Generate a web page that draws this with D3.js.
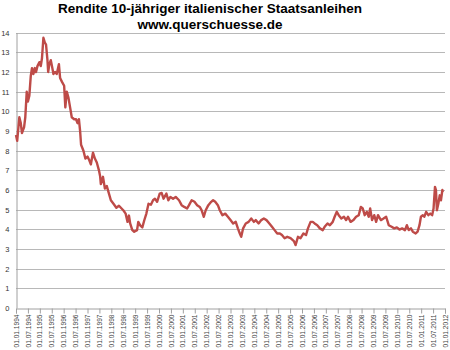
<!DOCTYPE html>
<html><head><meta charset="utf-8">
<script src="https://cdn.jsdelivr.net/npm/d3@7"></script>
<style>body{margin:0;background:#fff}svg{display:block}</style>
</head><body>
<svg id="c" width="450" height="350"></svg>
<script>
const titleLines = ["Rendite 10-jähriger italienischer Staatsanleihen", "www.querschuesse.de"];
const yTicks = [0,1,2,3,4,5,6,7,8,9,10,11,12,13,14];
const xTickLabels = ["01.01.1994","01.07.1994","01.01.1995","01.07.1995","01.01.1996","01.07.1996","01.01.1997","01.07.1997","01.01.1998","01.07.1998","01.01.1999","01.07.1999","01.01.2000","01.07.2000","01.01.2001","01.07.2001","01.01.2002","01.07.2002","01.01.2003","01.07.2003","01.01.2004","01.07.2004","01.01.2005","01.07.2005","01.01.2006","01.07.2006","01.01.2007","01.07.2007","01.01.2008","01.07.2008","01.01.2009","01.07.2009","01.01.2010","01.07.2010","01.01.2011","01.07.2011","01.01.2012"];
// decimal years
const times = [1994.00,1994.05,1994.14,1994.20,1994.25,1994.34,1994.39,1994.45,1994.50,1994.56,1994.62,1994.67,1994.73,1994.79,1994.84,1994.90,1994.98,1995.04,1995.09,1995.15,1995.21,1995.26,1995.32,1995.35,1995.40,1995.46,1995.51,1995.57,1995.64,1995.71,1995.80,1995.85,1995.93,1996.02,1996.07,1996.13,1996.20,1996.27,1996.34,1996.44,1996.52,1996.58,1996.64,1996.69,1996.73,1996.83,1996.91,1997.00,1997.08,1997.14,1997.23,1997.31,1997.39,1997.48,1997.53,1997.56,1997.65,1997.73,1997.81,1997.90,1997.98,1998.09,1998.21,1998.32,1998.40,1998.51,1998.60,1998.68,1998.74,1998.79,1998.88,1998.96,1999.08,1999.13,1999.21,1999.30,1999.38,1999.47,1999.56,1999.66,1999.75,1999.83,1999.92,2000.03,2000.11,2000.19,2000.31,2000.39,2000.48,2000.59,2000.70,2000.84,2000.95,2001.06,2001.18,2001.26,2001.37,2001.49,2001.60,2001.71,2001.79,2001.88,2001.96,2002.07,2002.19,2002.27,2002.36,2002.47,2002.55,2002.66,2002.78,2002.89,2003.00,2003.11,2003.22,2003.31,2003.39,2003.45,2003.53,2003.64,2003.76,2003.87,2003.98,2004.06,2004.18,2004.29,2004.40,2004.51,2004.63,2004.74,2004.85,2004.96,2005.07,2005.16,2005.27,2005.38,2005.52,2005.66,2005.73,2005.83,2005.94,2006.06,2006.17,2006.25,2006.36,2006.45,2006.53,2006.64,2006.75,2006.87,2006.95,2007.07,2007.17,2007.29,2007.37,2007.46,2007.54,2007.65,2007.76,2007.85,2007.93,2008.04,2008.16,2008.27,2008.38,2008.47,2008.55,2008.63,2008.72,2008.80,2008.86,2008.94,2009.03,2009.11,2009.19,2009.31,2009.42,2009.53,2009.64,2009.76,2009.87,2009.98,2010.09,2010.20,2010.32,2010.40,2010.48,2010.57,2010.65,2010.77,2010.85,2010.93,2010.99,2011.07,2011.13,2011.21,2011.30,2011.38,2011.46,2011.52,2011.58,2011.62,2011.66,2011.72,2011.78,2011.83,2011.89,2011.91];
const yields = [8.8,8.5,9.7,9.4,8.9,9.2,9.7,11.0,10.5,10.8,11.8,12.2,11.9,12.2,12.0,12.3,12.5,12.3,12.7,13.74,13.5,13.4,12.6,12.0,12.4,12.6,12.3,11.9,12.0,11.9,12.4,11.7,11.5,11.3,10.2,11.0,10.7,10.2,9.7,9.6,9.6,9.4,9.6,9.0,8.3,8.0,7.6,7.7,7.5,7.3,7.9,7.6,7.4,7.0,6.7,6.3,6.67,6.07,6.2,5.82,5.48,5.3,5.1,5.2,5.1,4.96,4.8,4.38,4.7,4.3,3.96,3.88,3.96,4.38,4.2,4.1,4.45,4.8,5.3,5.25,5.48,5.56,5.4,5.82,5.85,5.56,5.82,5.48,5.65,5.56,5.65,5.48,5.23,5.14,5.06,5.23,5.48,5.4,5.23,5.14,4.97,4.64,4.97,5.23,5.4,5.48,5.4,5.23,4.97,4.72,4.8,4.64,4.47,4.3,4.38,4.05,3.79,3.62,4.05,4.3,4.38,4.55,4.38,4.47,4.3,4.47,4.55,4.47,4.3,4.13,3.96,3.79,3.79,3.71,3.55,3.62,3.55,3.4,3.2,3.62,3.55,3.79,3.71,4.05,4.38,4.38,4.3,4.21,4.05,3.96,4.13,4.3,4.21,4.38,4.64,4.89,4.72,4.55,4.64,4.47,4.64,4.38,4.47,4.64,4.72,5.14,5.06,4.72,4.89,4.64,5.06,4.47,4.72,4.38,4.72,4.47,4.55,4.64,4.21,4.13,4.05,4.1,3.99,4.05,3.96,4.21,3.96,4.05,3.88,3.79,3.88,4.21,4.64,4.72,4.64,4.89,4.72,4.8,4.72,5.06,6.16,6.0,4.97,5.3,5.73,5.48,6.0,5.9];

const svg = d3.select("#c");
const mLeft = 16, mRight = 445, mTop = 32.7, mBottom = 308;
const x = d3.scaleLinear().domain([1994, 2012]).range([mLeft, mRight]);
const y = d3.scaleLinear().domain([0, 14]).range([mBottom, mTop]);
const font = "'Liberation Sans', Arial, sans-serif";

// title
svg.append("g").selectAll("text").data(titleLines).join("text")
  .attr("x", 210).attr("y", (d,i) => 12.7 + i*16.5)
  .attr("text-anchor", "middle").attr("font-family", font)
  .attr("font-weight", "bold").attr("font-size", 13.5).attr("fill", "#000")
  .text(d => d);

// grid
svg.append("g").selectAll("line").data(yTicks.slice(1)).join("line")
  .attr("x1", mLeft).attr("x2", mRight)
  .attr("y1", d => Math.round(y(d)) + 0.5).attr("y2", d => Math.round(y(d)) + 0.5)
  .attr("stroke", "#b8b8b8").attr("stroke-width", 1);

// y axis
const yAxis = d3.axisLeft(y).tickValues(yTicks).tickSize(0).tickPadding(7);
const gy = svg.append("g").attr("transform", `translate(${mLeft + 0.5},0)`).call(yAxis);
gy.select(".domain").attr("stroke", "#a0a0a0");
gy.selectAll("text").attr("font-family", font).attr("font-size", 7.5).attr("fill", "#333");

// x axis
const tickVals = xTickLabels.map((d, i) => 1994 + i * 0.5);
const xAxis = d3.axisBottom(x).tickValues(tickVals).tickSize(5).tickPadding(3)
  .tickFormat((d, i) => xTickLabels[i]);
const gx = svg.append("g").attr("transform", `translate(0,${Math.round(mBottom) + 0.5})`).call(xAxis);
gx.select(".domain").attr("stroke", "#a0a0a0");
gx.selectAll(".tick line").attr("stroke", "#a0a0a0");
gx.selectAll("text").attr("font-family", font).attr("font-size", 6.6).attr("fill", "#444")
  .attr("text-anchor", "end").attr("dy", "0.32em")
  .attr("transform", "rotate(-90)").attr("x", -6).attr("y", 0);

// line
const data = times.map((t, i) => ({t, v: yields[i]}));
svg.append("path").datum(data)
  .attr("fill", "none").attr("stroke", "#be4b48").attr("stroke-width", 2.4)
  .attr("stroke-linejoin", "round")
  .attr("d", d3.line().x(d => x(d.t)).y(d => y(d.v)));
</script>
</body></html>
